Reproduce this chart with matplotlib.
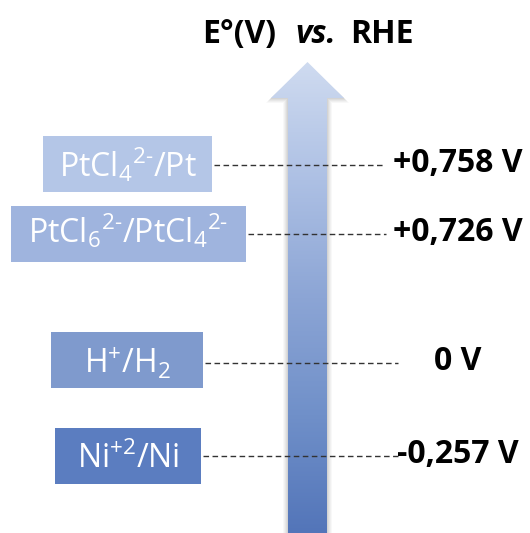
import numpy as np
import matplotlib
matplotlib.use("Agg")
import matplotlib.pyplot as plt
from matplotlib.patches import Polygon, Rectangle
from matplotlib.colors import LinearSegmentedColormap

plt.rcParams['font.family'] = ['Open Sans', 'DejaVu Sans']
plt.rcParams['mathtext.fontset'] = 'custom'
plt.rcParams['mathtext.rm'] = 'Open Sans'
plt.rcParams['mathtext.it'] = 'Open Sans:italic:bold'
plt.rcParams['mathtext.bf'] = 'Open Sans:bold'

# ---- data ----
couples = [r"PtCl$_4$$^{2\text{-}}$/Pt", r"PtCl$_6$$^{2\text{-}}$/PtCl$_4$$^{2\text{-}}$",
           r"H$^{+}$/H$_2$", r"Ni$^{+2}$/Ni"]
potentials = [0.758, 0.726, 0.0, -0.257]
potential_labels = ["+0,758 V", "+0,726 V", "0 V", "-0,257 V"]
title_parts = ["E°(V)", "vs.", "RHE"]

# ---- layout (pixel coordinates, y downward) ----
W, H = 530, 533
level_y = [165, 234, 363, 456]
boxes = [(43, 136, 212, 192), (11, 206, 246, 262), (51, 332, 203, 388), (55, 428, 201, 484)]
box_colors = ["#b4c6e7", "#9fb4de", "#7f9acd", "#5b7dc0"]
text_baseline = [177, 243, 373, 468]
label_baseline = [172, 241, 370, 463]
line_end = [383, 386, 398, 398]
title_x = [202, 295, 350]
title_style = ['normal', 'italic', 'normal']

fig = plt.figure(figsize=(W / 100, H / 100), dpi=100)
ax = fig.add_axes([0, 0, 1, 1])
ax.set_xlim(0, W)
ax.set_ylim(H, 0)
ax.axis('off')

# arrow geometry
sx0, sx1 = 288, 327
hx0, hx1 = 271, 344
tip_x, tip_y = 307.5, 62
head_base = 98
arrow_pts = [(sx0, H + 5), (sx0, head_base), (hx0, head_base), (tip_x, tip_y),
             (hx1, head_base), (sx1, head_base), (sx1, H + 5)]

# soft shadow
for off, a in [(5, 0.04), (4, 0.05), (3, 0.06), (2, 0.07), (1, 0.08)]:
    pts = [(sx0 - off, H + 5), (sx0 - off, head_base + off), (hx0 - off, head_base + off),
           (tip_x, tip_y + 2), (hx1 + off, head_base + off), (sx1 + off, head_base + off),
           (sx1 + off, H + 5)]
    ax.add_patch(Polygon(pts, closed=True, facecolor='#606060', edgecolor='none', alpha=a, zorder=1))

cmap = LinearSegmentedColormap.from_list('arr', ['#cfdbf0', '#adc0e4', '#8ca5d5', '#7090c9', '#5375b9'])
grad = np.linspace(0, 1, 256).reshape(-1, 1)
im = ax.imshow(grad, extent=[hx0, hx1, H, tip_y], origin='upper', aspect='auto', cmap=cmap, zorder=2)
im.set_extent([hx0, hx1, H, tip_y])
clip = Polygon(arrow_pts, closed=True, facecolor='none', edgecolor='none', transform=ax.transData)
ax.add_patch(clip)
im.set_clip_path(clip)

# boxes, dashed lines, texts
for i, (name, lab) in enumerate(zip(couples, potential_labels)):
    x0, y0, x1, y1 = boxes[i]
    ax.add_patch(Rectangle((x0, y0), x1 - x0, y1 - y0, facecolor=box_colors[i], edgecolor='none', zorder=3))
    ax.text((x0 + x1) / 2, text_baseline[i], name, color='white', fontsize=23,
            ha='center', va='baseline', zorder=4)
    ax.plot([x1 + 2, line_end[i]], [level_y[i], level_y[i]], color='#333333', lw=1.0,
            ls=(0, (4, 2.5)), zorder=5)
    ax.text(458, label_baseline[i], lab, color='black', fontsize=23, fontweight='bold',
            ha='center', va='baseline', zorder=4)

for part, x, st in zip(title_parts, title_x, title_style):
    ax.text(x, 43, part, color='black', fontsize=23, fontweight='bold', fontstyle=st,
            ha='left', va='baseline')

fig.savefig('out.png', dpi=100)
